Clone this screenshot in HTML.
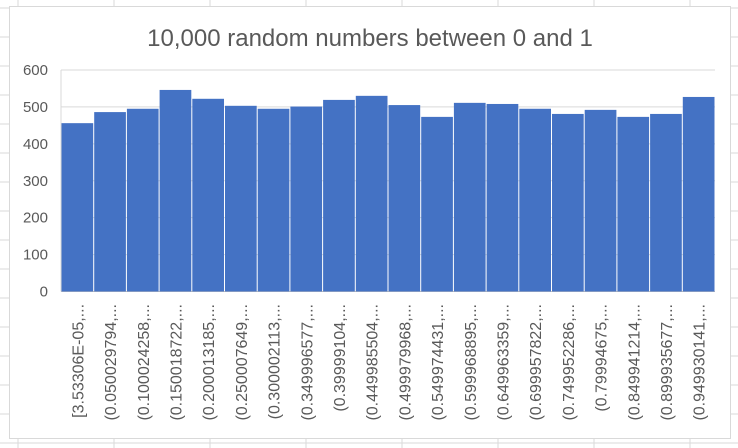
<!DOCTYPE html>
<html><head><meta charset="utf-8"><style>
body{margin:0;background:#fff;}
svg{display:block;font-family:"Liberation Sans",sans-serif;}
</style></head><body>
<svg id="c" width="738" height="448">
<g id="sheet"></g>
<rect x="9.5" y="6.5" width="721" height="432" fill="#fff" stroke="#d9d9d9"/>
<text x="370" y="46" text-anchor="middle" font-size="24" fill="#595959">10,000 random numbers between 0 and 1</text>
<g id="grid"></g><g id="bars"></g><g id="yt"></g><g id="xt"></g>
</svg>
<script>
const categories=["[3.53306E-05,...","(0.050029794,...","(0.100024258,...","(0.150018722,...","(0.200013185,...","(0.250007649,...","(0.300002113,...","(0.349996577,...","(0.39999104,...","(0.449985504,...","(0.499979968,...","(0.549974431,...","(0.599968895,...","(0.649963359,...","(0.699957822,...","(0.749952286,...","(0.79994675,...","(0.849941214,...","(0.899935677,...","(0.949930141,..."];
const counts=[456,486,495,546,522,503,495,501,519,530,505,473,511,508,495,481,492,473,481,527];
const yTicks=[0,100,200,300,400,500,600];
const NS="http://www.w3.org/2000/svg";
const X0=61,X1=715,Y0=291.5,Y1=70,YMAX=600;
const y=v=>Y0-(v/YMAX)*(Y0-Y1);
const bw=(X1-X0)/categories.length;
const x=i=>X0+i*bw;
function mk(t,a,p){const e=document.createElementNS(NS,t);for(const k in a)e.setAttribute(k,a[k]);document.getElementById(p).appendChild(e);return e;}
for(let gx=18;gx<738;gx+=96){const l=mk('line',{x1:gx,x2:gx,y1:0,y2:448,stroke:'#dadada'},'sheet');

}
for(let gy=8;gy<448;gy+=29){const l=mk('line',{x1:0,x2:738,y1:gy,y2:gy,stroke:'#dadada'},'sheet');

}
yTicks.forEach(t=>{
 const l=mk('line',{x1:X0,x2:X1,y1:y(t),y2:y(t),stroke:t===0?'#bfbfbf':'#d9d9d9','stroke-width':1},'grid');
 
 
 const tx=mk('text',{x:48,y:y(t)+5,'text-anchor':'end','font-size':15,fill:'#595959'},'yt');
 tx.textContent=t;
 
 
});
mk('line',{x1:X0,x2:X0,y1:Y1,y2:Y0,stroke:'#d9d9d9'},'grid');
counts.forEach((v,i)=>{
 const r=mk('rect',{x:x(i)+0.5,y:y(v),width:bw-1,height:Y0-y(v),fill:'#4472c4'},'bars');
 
 
 const cx=x(i)+bw/2+6;
 const t=mk('text',{x:cx,y:304,transform:`rotate(-90 ${cx} 304)`,'text-anchor':'end','font-size':16,fill:'#595959'},'xt');
 t.textContent=categories[i];
 
 
});
</script>
</body></html>
